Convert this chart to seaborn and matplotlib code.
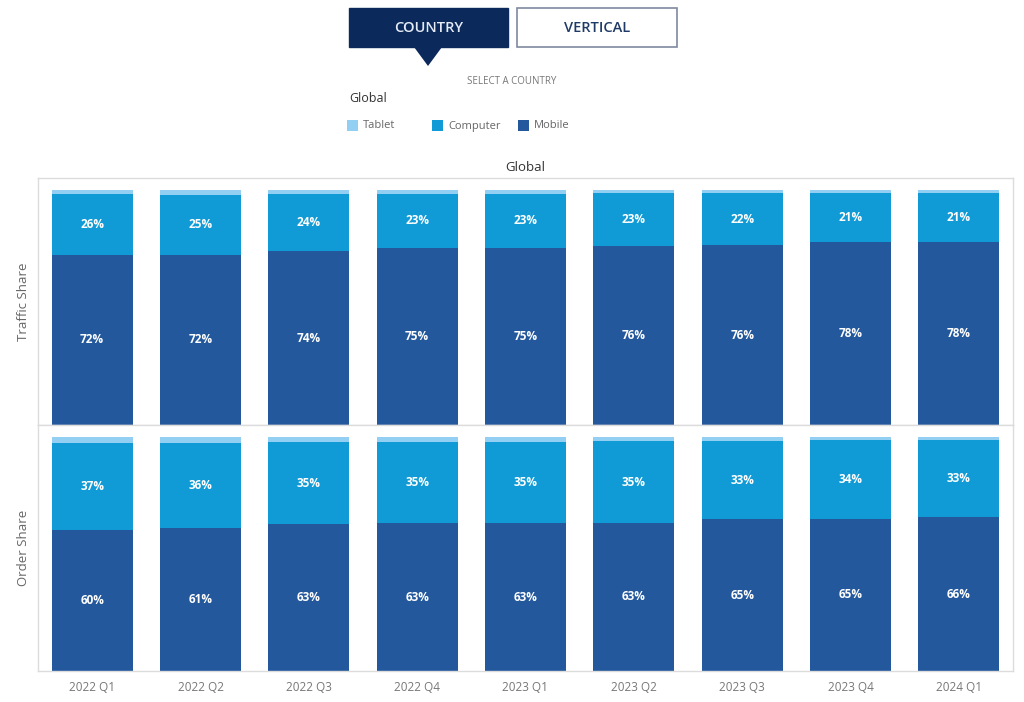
import matplotlib
matplotlib.use("Agg")
import matplotlib.pyplot as plt
import seaborn as sns
import numpy as np
from matplotlib.patches import Rectangle, Polygon

quarters = ["2022 Q1", "2022 Q2", "2022 Q3", "2022 Q4", "2023 Q1", "2023 Q2", "2023 Q3", "2023 Q4", "2024 Q1"]
traffic_mobile = [72.3, 72.4, 73.9, 75.2, 75.3, 76.1, 76.4, 77.8, 78.0]
traffic_computer = [25.9, 25.4, 24.4, 23.2, 23.1, 22.6, 22.2, 21.0, 20.8]
traffic_tablet = [1.8, 2.2, 1.7, 1.6, 1.6, 1.3, 1.4, 1.2, 1.2]
order_mobile = [60.2, 61.0, 62.7, 63.0, 63.1, 63.2, 64.8, 65.0, 65.6]
order_computer = [37.2, 36.4, 35.0, 34.9, 34.8, 34.8, 33.4, 33.6, 32.8]
order_tablet = [2.6, 2.6, 2.3, 2.1, 2.1, 2.0, 1.8, 1.4, 1.6]
series_names = ["Tablet", "Computer", "Mobile"]

C_TAB = "#93cff3"
C_COMP = "#109bd6"
C_MOB = "#23589d"
GRID = "#dcdcdc"
TXT = "#666666"

sns.set_theme(style="white")
plt.rcParams['font.family'] = ['Open Sans', 'DejaVu Sans']

fig = plt.figure(figsize=(10.24, 7.02), dpi=100)
W, H = 1024, 702

def fx(x): return x / W
def fy(y): return 1 - y / H

ax1 = fig.add_axes([fx(38), fy(425), fx(1013) - fx(38), (425 - 178) / H])
ax2 = fig.add_axes([fx(38), fy(671), fx(1013) - fx(38), (671 - 425) / H])

def panel(ax, mob, comp, tab, ylabel, show_x):
    mob = np.array(mob)
    comp = np.array(comp)
    tab = np.array(tab)
    top = mob + comp + tab
    mc = mob + comp
    sns.barplot(x=quarters, y=top, color=C_TAB, width=0.75, ax=ax, saturation=1, edgecolor="none")
    sns.barplot(x=quarters, y=mc, color=C_COMP, width=0.75, ax=ax, saturation=1, edgecolor="none")
    sns.barplot(x=quarters, y=mob, color=C_MOB, width=0.75, ax=ax, saturation=1, edgecolor="none")
    for i in range(len(quarters)):
        ax.text(i, mob[i] / 2, f"{mob[i]:.0f}%", ha="center", va="center",
                color="white", fontsize=8.5, fontweight="bold")
        ax.text(i, mob[i] + comp[i] / 2, f"{comp[i]:.0f}%", ha="center", va="center",
                color="white", fontsize=8.5, fontweight="bold")
    ax.set_ylim(0, 105)
    ax.set_xlim(-0.5, len(quarters) - 0.5)
    ax.set_yticks([])
    ax.set_ylabel(ylabel, color=TXT, fontsize=9.5, labelpad=6)
    for s in ax.spines.values():
        s.set_color(GRID)
        s.set_linewidth(1)
    ax.tick_params(axis="x", length=0, colors="#777777", labelsize=8.5, pad=7)
    if not show_x:
        ax.set_xticklabels([])
    ax.set_xlabel("")

panel(ax1, traffic_mobile, traffic_computer, traffic_tablet, "Traffic Share", False)
panel(ax2, order_mobile, order_computer, order_tablet, "Order Share", True)
ax1.set_title("Global", fontsize=9.5, color="#333333", pad=5)

# header buttons
fig.patches.append(Rectangle((fx(349), fy(47)), fx(508) - fx(349), (47 - 8) / H,
                             transform=fig.transFigure, facecolor="#0b2a5b", edgecolor="#0b2a5b", linewidth=1))
fig.patches.append(Polygon([[fx(414), fy(47)], [fx(442), fy(47)], [fx(428), fy(66)]],
                           transform=fig.transFigure, facecolor="#0b2a5b", edgecolor="none"))
fig.patches.append(Rectangle((fx(517), fy(47)), fx(677) - fx(517), (47 - 8) / H,
                             transform=fig.transFigure, facecolor="white", edgecolor="#7f8aa0", linewidth=1.2))
fig.text(fx(428.5), fy(28), "COUNTRY", ha="center", va="center", color="#e6ecf5", fontsize=10.5, fontweight="semibold")
fig.text(fx(597), fy(28), "VERTICAL", ha="center", va="center", color="#1f3a66", fontsize=10.5, fontweight="semibold")
fig.text(fx(512), fy(81), "SELECT A COUNTRY", ha="center", va="center", color="#777777", fontsize=7)
fig.text(fx(349), fy(98), "Global", ha="left", va="center", color="#333333", fontsize=9)

leg_x = [347, 432, 518]
leg_cols = [C_TAB, C_COMP, C_MOB]
for x, c, name in zip(leg_x, leg_cols, series_names):
    fig.patches.append(Rectangle((fx(x), fy(131)), 11 / W, 11 / H, transform=fig.transFigure,
                                 facecolor=c, edgecolor="none"))
    fig.text(fx(x + 16), fy(126), name, ha="left", va="center", color="#666666", fontsize=8)

fig.savefig("out.png", dpi=100, facecolor="white")
